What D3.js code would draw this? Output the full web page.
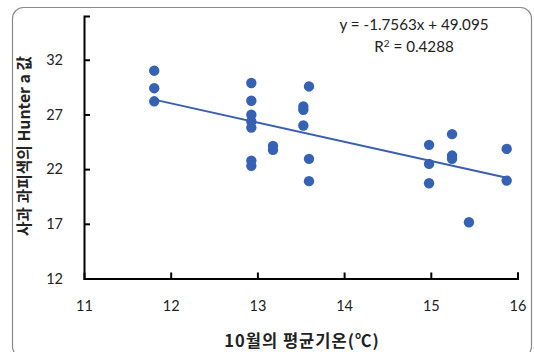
<!DOCTYPE html>
<html>
<head>
<meta charset="utf-8">
<script src="https://cdn.jsdelivr.net/npm/d3@7"></script>
<style>
  html, body { margin: 0; padding: 0; background: #fff; }
  svg { display: block; }
  text { font-family: Lato, "Noto Sans", sans-serif; fill: #222; }
  .ko { font-family: "Noto Sans CJK KR", sans-serif; font-weight: bold; }
</style>
</head>
<body>
<svg id="chart" width="534" height="352"></svg>
<script>
// October mean temperature (°C) and Hunter a value of apple skin colour
const temps = [
  11.81, 11.81, 11.81,
  12.93, 12.93, 12.93, 12.93, 12.93, 12.93, 12.93,
  13.18, 13.18,
  13.53, 13.53, 13.53,
  13.595, 13.595, 13.595,
  14.98, 14.98, 14.98,
  15.245, 15.245, 15.245,
  15.44,
  15.875, 15.875
];
const hunterA = [
  31.0, 29.4, 28.2,
  29.87, 28.25, 26.97, 26.35, 25.8, 22.78, 22.3,
  24.13, 23.76,
  27.73, 27.42, 25.99,
  29.56, 22.94, 20.9,
  24.22, 22.48, 20.71,
  25.2, 23.24, 22.94,
  17.14,
  23.85, 20.95
];
const xTicks = [11, 12, 13, 14, 15, 16];
const yTicks = [12, 17, 22, 27, 32];
const slope = -1.7563;
const intercept = 49.095;
const rSquared = 0.4288;

const svg = d3.select("#chart");

// rounded frame around the chart
svg.append("rect")
  .attr("x", 12.5).attr("y", 7.5)
  .attr("width", 519).attr("height", 350)
  .attr("rx", 11).attr("ry", 11)
  .attr("fill", "none")
  .attr("stroke", "#8a8a8a")
  .attr("stroke-width", 1.2);

const x = d3.scaleLinear().domain([11, 16]).range([84, 517.5]);
const y = d3.scaleLinear().domain([12, 36]).range([278.5, 16]);

// axes with inward ticks
const xAxis = svg.append("g")
  .attr("transform", `translate(0,${y(12)})`)
  .call(d3.axisBottom(x).tickValues(xTicks).tickSize(-6).tickPadding(22).tickFormat(d3.format("d")));
const yAxis = svg.append("g")
  .attr("transform", `translate(${x(11)},0)`)
  .call(d3.axisLeft(y).tickValues(yTicks).tickSize(-6).tickPadding(21).tickFormat(d3.format("d")));

[xAxis, yAxis].forEach(g => {
  g.select(".domain").attr("stroke", "#000").attr("stroke-width", 2);
  g.selectAll(".tick line").attr("stroke", "#000").attr("stroke-width", 2);
  g.selectAll(".tick text")
    .attr("font-family", "Lato, 'Noto Sans', sans-serif")
    .attr("font-size", 14.5)
    .attr("fill", "#222");
});
xAxis.selectAll(".tick").filter(d => d === 11).select("line").remove();
yAxis.selectAll(".tick").filter(d => d === 12).select("line").remove();

// data points
svg.append("g")
  .selectAll("circle")
  .data(temps.map((t, i) => [t, hunterA[i]]))
  .join("circle")
  .attr("cx", d => x(d[0]))
  .attr("cy", d => y(d[1]))
  .attr("r", 5.2)
  .attr("fill", "#3562b3");

// linear trend line over the observed temperature range
const [xMin, xMax] = d3.extent(temps);
svg.append("line")
  .attr("x1", x(xMin)).attr("y1", y(slope * xMin + intercept))
  .attr("x2", x(xMax)).attr("y2", y(slope * xMax + intercept))
  .attr("stroke", "#3a5fb0")
  .attr("stroke-width", 2);

// regression equation
const eq = svg.append("g").attr("font-size", 15.2).attr("text-anchor", "middle");
eq.append("text").attr("x", 414).attr("y", 30)
  .text(`y = ${slope}x + ${intercept.toFixed(3)}`);
const r2 = eq.append("text").attr("x", 414).attr("y", 52);
r2.append("tspan").text("R");
r2.append("tspan").attr("dy", -5).attr("font-size", 10).text("2");
r2.append("tspan").attr("dy", 5).text(` = ${rSquared}`);

// axis titles
svg.append("text").attr("class", "ko")
  .attr("x", 302).attr("y", 347)
  .attr("text-anchor", "middle")
  .attr("font-size", 16.5)
  .attr("letter-spacing", 1)
  .text("10월의 평균기온(℃)");

svg.append("text").attr("class", "ko")
  .attr("transform", "translate(30,146) rotate(-90)")
  .attr("text-anchor", "middle")
  .attr("font-size", 15.8)
  .text("사과 과피색의 Hunter a 값");
</script>
</body>
</html>
